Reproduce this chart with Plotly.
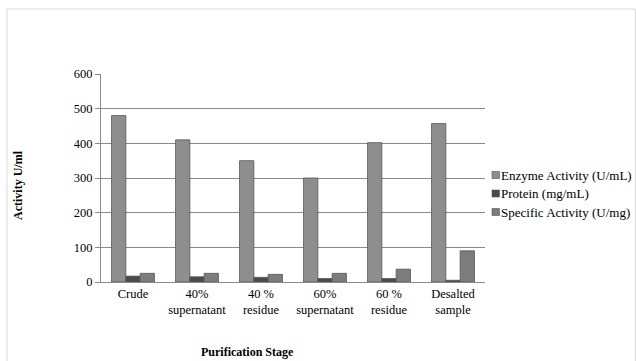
import plotly.graph_objects as go

# Purification stages and measured values
stages = ["Crude", "40%<br>supernatant", "40 %<br>residue",
          "60%<br>supernatant", "60 %<br>residue", "Desalted<br>sample"]
enzyme_activity = [480, 410, 350, 300, 402, 457]
protein = [17, 15, 13.5, 10, 10, 5]
specific_activity = [25, 25, 22, 25, 37, 90]

series_names = ["Enzyme Activity (U/mL)", "Protein (mg/mL)", "Specific Activity (U/mg)"]
series_colors = ["#8e8e8e", "#4a4a4a", "#7c7c7c"]

W, H = 636, 361
L, R, T, B = 101, 151, 74, 79
pw, ph = W - L - R, H - T - B

def px_x(x):
    return (x - L) / pw

def px_y(y):
    return (H - B - y) / ph

font_family = "Liberation Serif, Times New Roman, serif"

fig = go.Figure()
for name, vals, col in zip(series_names,
                           [enzyme_activity, protein, specific_activity],
                           series_colors):
    fig.add_trace(go.Bar(
        x=stages, y=vals, name=name, showlegend=False,
        marker=dict(color=col, line=dict(color="#555555", width=0.8)),
    ))

# Compact legend drawn beside the plot area
shapes = [
    dict(type="rect", xref="paper", yref="paper",
         x0=px_x(7), x1=px_x(635.5), y0=px_y(365), y1=px_y(9),
         line=dict(color="#d9d9d9", width=1), layer="below"),
]
annotations = [
    dict(text="<b>Activity U/ml</b>", textangle=-90, showarrow=False,
         xref="paper", yref="paper", x=px_x(18), y=px_y(185),
         xanchor="center", yanchor="middle",
         font=dict(family=font_family, size=12)),
    dict(text="<b>Purification Stage</b>", showarrow=False,
         xref="paper", yref="paper", x=px_x(247), y=px_y(352),
         xanchor="center", yanchor="middle",
         font=dict(family=font_family, size=12)),
]
for i, (name, col) in enumerate(zip(series_names, series_colors)):
    yc = 175 + i * 18.5
    shapes.append(dict(type="rect", xref="paper", yref="paper",
                       x0=px_x(492), x1=px_x(499.5),
                       y0=px_y(yc + 3.5), y1=px_y(yc - 3.5),
                       fillcolor=col, line=dict(color="#555555", width=0.6)))
    annotations.append(dict(text=name, showarrow=False, xref="paper", yref="paper",
                            x=px_x(498.5), y=px_y(yc), xanchor="left", yanchor="middle",
                            font=dict(family=font_family, size=13)))

fig.update_layout(
    width=W, height=H,
    margin=dict(l=L, r=R, t=T, b=B, autoexpand=False),
    paper_bgcolor="white", plot_bgcolor="white",
    barmode="group", bargap=0.33, bargroupgap=0,
    font=dict(family=font_family, size=12.5, color="#000000"),
    showlegend=False,
    xaxis=dict(showline=True, linecolor="#8a8a8a", linewidth=1.2,
               ticks="", showgrid=False,
               tickfont=dict(family=font_family, size=12.5)),
    yaxis=dict(range=[0, 600], dtick=100, showline=True, linecolor="#8a8a8a",
               linewidth=1.2, ticks="outside", ticklen=5, tickcolor="#8a8a8a",
               showgrid=True, gridcolor="#8a8a8a", gridwidth=1.2,
               zeroline=False, tickfont=dict(family=font_family, size=12.5)),
    annotations=annotations,
    shapes=shapes,
)

fig.write_html("out.html")
